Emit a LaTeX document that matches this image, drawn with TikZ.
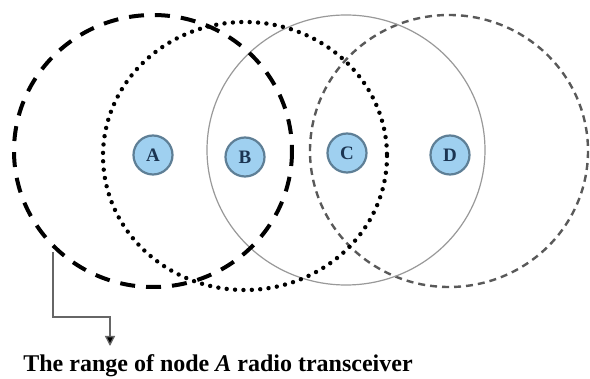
\documentclass[tikz,border=0pt]{standalone}
\usepackage{fontspec}
\setmainfont{Liberation Serif}
\usetikzlibrary{arrows.meta}
\definecolor{nodefill}{HTML}{9FD0F0}
\definecolor{noderim}{HTML}{5E7F96}
\definecolor{nodetext}{HTML}{1B3552}
\tikzset{
  stanode/.style={circle, draw=noderim, line width=2.2pt, fill=nodefill, minimum size=39pt, inner sep=0pt,
    font=\fontsize{19}{19}\selectfont\bfseries, text=nodetext},
  rangeA/.style={draw=black, line width=4pt, dash pattern=on 15pt off 11pt},
  rangeB/.style={draw=black, line width=4.4pt, line cap=round, dash pattern=on 0pt off 8.4pt},
  rangeC/.style={draw=black!40, line width=1.2pt},
  rangeD/.style={draw=black!65, line width=2.4pt, dash pattern=on 7pt off 5pt},
  pointer/.style={draw=black!60, line width=1.3pt, -{Triangle[length=10pt,width=10pt,fill=black]}},
}
\begin{document}
\begin{tikzpicture}[x=1pt,y=-1pt]
\useasboundingbox (0,0) rectangle (590,379);
\fill[white] (0,0) rectangle (590,379);
% ranges
\draw[rangeD] (449,151) ellipse [x radius=139, y radius=136];
\draw[rangeC] (346,150) ellipse [x radius=139, y radius=135];
\draw[rangeB] (245,156) ellipse [x radius=142, y radius=134];
\draw[rangeA] (153,151) ellipse [x radius=139, y radius=136];
% stations
\node[stanode] (A) at (153,155) {A};
\node[stanode] (B) at (245,157) {B};
\node[stanode] (C) at (347,153) {C};
\node[stanode] (D) at (450,155) {D};
% caption
\node[anchor=base, font=\fontsize{24}{24}\selectfont\bfseries, inner sep=0pt] (cap) at (218,372)
  {The range of node \textit{A} radio transceiver};
\coordinate (s) at (53,252);
\coordinate (t) at (110,346);
\draw[pointer] (s) |- (110,317) -- (t);
\end{tikzpicture}
\end{document}
